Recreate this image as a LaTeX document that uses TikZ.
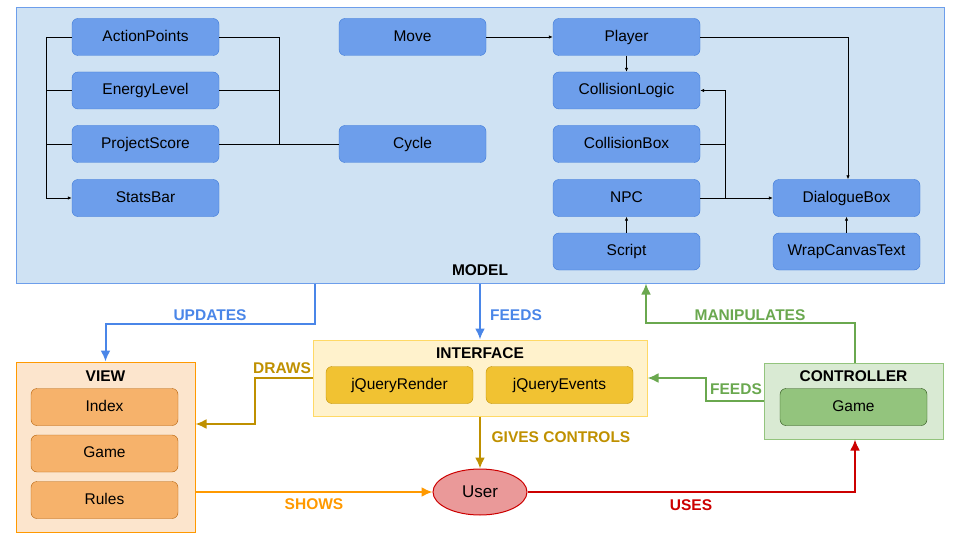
\documentclass[tikz,border=0pt]{standalone}
\usepackage{fontspec}
\setmainfont{Liberation Sans}
\usetikzlibrary{arrows.meta}
\usetikzlibrary{shapes.geometric}
\definecolor{modelfill}{HTML}{CFE2F3}
\definecolor{modeldraw}{HTML}{6D9EEB}
\definecolor{bluefill}{HTML}{6D9EEB}
\definecolor{bluedraw}{HTML}{3C78D8}
\definecolor{bluearrow}{HTML}{4A86E8}
\definecolor{viewfill}{HTML}{FCE5CD}
\definecolor{viewdraw}{HTML}{FF9900}
\definecolor{orangefill}{HTML}{F6B26B}
\definecolor{orangedraw}{HTML}{B45F06}
\definecolor{ifacefill}{HTML}{FFF2CC}
\definecolor{ifacedraw}{HTML}{FFD966}
\definecolor{goldfill}{HTML}{F1C232}
\definecolor{golddraw}{HTML}{BF9000}
\definecolor{ctrlfill}{HTML}{D9EAD3}
\definecolor{ctrldraw}{HTML}{93C47D}
\definecolor{greenfill}{HTML}{93C47D}
\definecolor{greendraw}{HTML}{274E13}
\definecolor{greenarrow}{HTML}{6AA84F}
\definecolor{userfill}{HTML}{EA9999}
\definecolor{reddraw}{HTML}{CC0000}
\tikzset{
box/.style={shape=rectangle, rounded corners=6pt, minimum width=147pt, minimum height=37pt, inner sep=0pt, text height=11pt, text depth=2.5pt, font=\fontsize{15.5}{18}\selectfont},
mbox/.style={box, draw=bluedraw, fill=bluefill},
vbox/.style={box, draw=orangedraw, fill=orangefill},
ibox/.style={box, draw=golddraw, fill=goldfill},
cbox/.style={box, draw=greendraw, fill=greenfill},
area/.style={shape=rectangle, inner sep=0pt, line width=1pt},
title/.style={font=\bfseries\fontsize{15.5}{18}\selectfont},
link/.style={line width=0.8pt},
linkarr/.style={line width=0.8pt, -{Latex[length=4pt,width=3.5pt]}},
flow/.style={line width=2pt, -{Latex[length=11pt,width=10pt]}}
}

\begin{document}
\begin{tikzpicture}[x=1pt,y=-1pt]

                \useasboundingbox (0,0) rectangle (960,540);

                % model
                \node[area, draw=modeldraw, fill=modelfill, minimum width=928pt, minimum height=275pt] (Model) at (480,145.5) {};
                \node[title] (ModelT) at (480,270) {MODEL};

                \node[mbox] (AP) at (145.5,37) {ActionPoints};
                \node[mbox] (EL) at (145.5,90.5) {EnergyLevel};
                \node[mbox] (PS) at (145.5,144) {ProjectScore};
                \node[mbox] (SB) at (145.5,198) {StatsBar};
                \node[mbox] (Mv) at (412.5,37) {Move};
                \node[mbox] (Cy) at (412.5,144) {Cycle};
                \node[mbox] (Pl) at (626.5,37) {Player};
                \node[mbox] (CL) at (626.5,90.5) {CollisionLogic};
                \node[mbox] (CB) at (626.5,144) {CollisionBox};
                \node[mbox] (NPC) at (626.5,198) {NPC};
                \node[mbox] (Sc) at (626.5,251.5) {Script};
                \node[mbox] (DB) at (846.5,198) {DialogueBox};
                \node[mbox] (WT) at (846.5,251.5) {WrapCanvasText};

                \draw[linkarr] (AP.west) -- ++(-25,0) |- (SB.west);
                \draw[link] (EL.west) -- ++(-25,0);
                \draw[link] (PS.west) -- ++(-25,0);
                \draw[link] (AP.east) -- ++(60,0) |- (Cy.west);
                \draw[link] (EL.east) -- ++(60,0);
                \draw[link] (PS.east) -- (Cy.west);
                \draw[linkarr] (Mv.east) -- (Pl.west);
                \draw[linkarr] (Pl.south) -- (CL.north);
                \draw[linkarr] (Pl.east) -| ([xshift=1.5pt]DB.north);
                \draw[link] (CB.east) -- ++(25,0);
                \draw[linkarr] (NPC.east) -- ++(25,0) |- (CL.east);
                \draw[linkarr] (NPC.east) -- (DB.west);
                \draw[linkarr] (Sc.north) -- (NPC.south);
                \draw[linkarr] (WT.north) -- (DB.south);

                % view
                \node[area, draw=viewdraw, fill=viewfill, minimum width=179pt, minimum height=170pt] (View) at (105.5,447) {};
                \node[title] (ViewT) at (105.5,376) {VIEW};
                \node[vbox] (Ix) at (104.5,407) {Index};
                \node[vbox] (VG) at (104.5,453.5) {Game};
                \node[vbox] (Ru) at (104.5,500) {Rules};

                % interface
                \node[area, draw=ifacedraw, fill=ifacefill, minimum width=334pt, minimum height=76pt] (Iface) at (480,378) {};
                \node[title] (IfaceT) at (480,353) {INTERFACE};
                \node[ibox] (JR) at (399.5,385) {jQueryRender};
                \node[ibox] (JE) at (559.5,385) {jQueryEvents};

                % controller
                \node[area, draw=ctrldraw, fill=ctrlfill, minimum width=179pt, minimum height=76pt] (Ctrl) at (853.5,401) {};
                \node[title] (CtrlT) at (853.5,376) {CONTROLLER};
                \node[cbox] (CG) at (853.5,407) {Game};

                % user
                \node[shape=ellipse, draw=reddraw, fill=userfill, line width=1pt, minimum width=94pt, minimum height=46pt, inner sep=0pt, font=\fontsize{17}{20}\selectfont] (User) at (480,492) {User};

                \draw[flow, bluearrow] ([xshift=-165pt]Model.south) -- ++(0,40) -| (View.north);
                \node[title, text=bluearrow] (UpdT) at (210,315) {UPDATES};
                \draw[flow, bluearrow] (Model.south) -- (Iface.north);
                \node[title, text=bluearrow] (FeedT) at (516,315) {FEEDS};
                \draw[flow, golddraw] (Iface.west) -- ++(-58,0) |- ([yshift=23pt]View.east);
                \node[title, text=golddraw] (DrawT) at (282,368) {DRAWS};
                \draw[flow, golddraw] (Iface.south) -- (User.north);
                \node[title, text=golddraw] (GiveT) at (561,437) {GIVES CONTROLS};
                \draw[flow, viewdraw] (View.east |- User) -- (User.west);
                \node[title, text=viewdraw] (ShowT) at (314,504) {SHOWS};
                \draw[flow, reddraw] (User.east) -| ([xshift=1.5pt]Ctrl.south);
                \node[title, text=reddraw] (UseT) at (691,505) {USES};
                \draw[flow, greenarrow] (Ctrl.west) -- ++(-58,0) |- (Iface.east);
                \node[title, text=greenarrow] (CFeedT) at (736,389) {FEEDS};
                \draw[flow, greenarrow] ([xshift=1.5pt]Ctrl.north) -- ++(0,-40) -| ([xshift=166pt]Model.south);
                \node[title, text=greenarrow] (ManT) at (750,315) {MANIPULATES};

            \end{tikzpicture}
\end{document}
